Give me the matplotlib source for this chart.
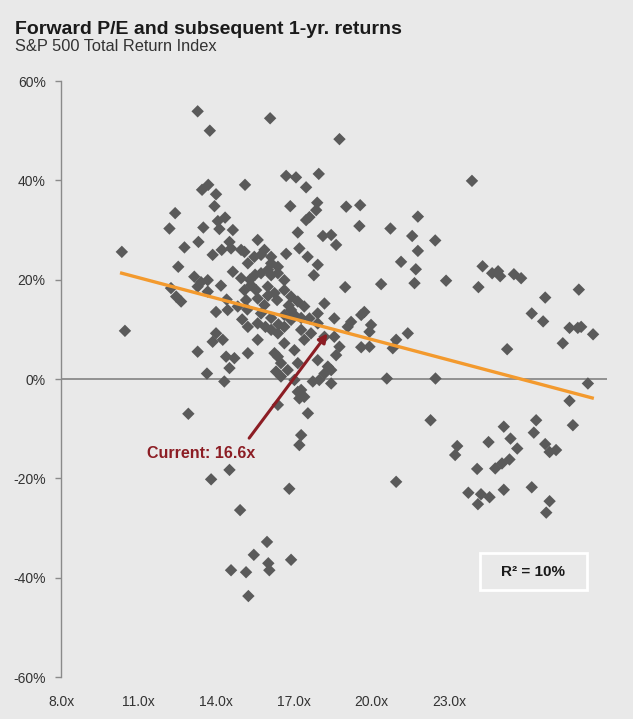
import matplotlib
matplotlib.use("Agg")
import matplotlib.pyplot as plt
from matplotlib.patches import Rectangle

# ---- data (forward P/E in chart units, subsequent 1-yr return %) ----
pe = [13.28, 13.75, 16.08, 18.76, 16.70, 17.08, 17.96, 17.47, 15.11, 13.45,
      13.69, 13.99, 13.93, 16.86, 17.90, 17.86, 17.60, 17.47, 19.02, 19.56,
      19.53, 20.73, 21.79, 21.57, 21.79, 21.14, 23.88, 22.46, 21.71, 21.66,
      22.88, 20.37, 24.29, 24.66, 24.89, 24.97, 25.50, 25.78, 24.13, 26.71,
      28.01, 26.19, 26.63, 27.65, 27.97, 28.10, 28.56, 27.39, 25.24, 21.40,
      20.95, 20.82, 20.59, 22.47, 28.36, 27.65, 27.78, 22.28, 25.11, 26.36,
      26.27, 23.31, 23.23, 24.52, 25.37, 25.63, 26.71, 26.88, 27.13, 24.08,
      24.78, 25.04, 25.33, 20.95, 23.74, 24.23, 24.56, 24.11, 25.11, 26.19,
      26.88, 26.75, 18.98, 18.18, 18.56, 19.21, 19.72, 19.60, 19.98, 19.92,
      19.60, 19.92, 18.56, 18.76, 18.63, 18.31, 18.18, 18.44, 17.73, 17.98,
      18.44, 17.53, 17.92, 17.77, 15.60, 15.86, 15.47, 16.12, 16.38, 17.15,
      18.12, 18.44, 18.63, 17.21, 16.70, 12.41, 12.19, 13.50, 14.06, 14.34,
      14.12, 14.64, 14.51, 13.31, 12.77, 10.35, 13.86, 14.21, 14.57, 14.96,
      12.53, 13.15, 13.41, 13.67, 14.18, 12.25, 12.64, 12.45, 10.47, 13.28,
      13.99, 13.86, 14.25, 14.38, 14.70, 15.22, 14.51, 13.64, 14.31, 12.92,
      13.99, 14.44, 13.28, 13.67, 15.22, 15.60, 15.73, 16.25, 16.50, 16.76,
      16.31, 17.02, 17.28, 17.21, 17.54, 17.28, 17.21, 17.15, 17.40, 16.38,
      14.51, 13.80, 16.82, 14.92, 15.96, 15.45, 14.57, 15.15, 16.01, 16.05,
      16.89, 15.24,
      15.09, 16.12, 14.64, 14.96, 15.22, 15.73, 16.38, 16.63, 15.09, 15.60,
      15.99, 16.25, 16.63, 16.89, 17.15, 17.40, 17.92, 19.08, 14.83, 15.60,
      16.12, 16.38, 16.63, 16.89, 17.28, 17.40, 17.66, 17.92, 18.18, 16.38,
      16.63, 17.02, 17.15, 17.92, 16.50,
      15.34, 15.86, 16.35, 16.89, 17.28, 15.15, 16.63, 16.12, 15.54, 15.73,
      16.12, 15.50, 16.00, 15.30, 16.80, 17.00, 16.40, 15.90, 15.00, 17.60,
      16.00, 14.40, 15.20]
ret = [53.9, 50.0, 52.5, 48.3, 40.9, 40.6, 41.3, 38.6, 39.1, 38.1,
       39.1, 37.2, 34.8, 34.8, 35.5, 34.0, 32.6, 32.0, 34.7, 35.0,
       30.8, 30.3, 32.7, 28.8, 25.8, 23.6, 39.9, 27.9, 22.1, 19.3,
       19.8, 19.1, 22.7, 21.3, 21.7, 20.7, 21.1, 20.3, 18.5, 16.4,
       18.0, 13.2, 11.6, 10.3, 10.3, 10.5, 9.0, 7.2, 6.0, 9.2,
       7.9, 6.2, 0.1, 0.1, -0.9, -4.4, -9.3, -8.3, -9.6, -8.3,
       -10.8, -13.5, -15.3, -12.7, -12.0, -14.0, -13.1, -14.7, -14.3, -18.1,
       -18.0, -17.0, -16.2, -20.7, -22.9, -23.2, -23.8, -25.2, -22.3, -21.8,
       -24.6, -26.9, 18.5, 15.2, 12.2, 11.5, 13.5, 12.9, 10.9, 9.5,
       6.4, 6.5, 8.5, 6.5, 4.8, 2.5, 1.1, -0.9, -0.5, -0.2,
       1.8, 24.6, 23.0, 20.9, 28.0, 26.0, 24.6, 23.3, 22.6, 29.5,
       28.8, 29.0, 27.0, 26.3, 25.2, 33.4, 30.3, 30.5, 31.8, 32.5,
       30.2, 30.0, 27.6, 27.6, 26.5, 25.6, 25.0, 26.0, 26.3, 26.0,
       22.6, 20.6, 19.5, 19.9, 18.8, 18.3, 15.6, 16.6, 9.7, 5.5,
       9.2, 7.5, 7.9, 4.5, 4.2, 5.2, 2.2, 1.1, -0.5, -7.0,
       13.5, 13.9, 18.6, 17.6, 10.5, 7.9, 13.2, 5.2, 3.2, 1.8,
       1.5, -0.2, -2.2, -3.9, -6.9, -11.3, -13.3, -2.6, -3.6, -5.2,
       -18.3, -20.2, -22.1, -26.4, -32.8, -35.4, -38.5, -38.9, -37.1, -38.5,
       -36.4, -43.7,
       25.6, 24.6, 21.6, 20.3, 23.3, 21.3, 21.3, 19.9, 17.9, 16.2,
       18.6, 17.3, 17.9, 16.6, 15.6, 14.6, 13.2, 10.5, 14.6, 11.2,
       9.9, 9.2, 10.5, 11.9, 9.9, 7.9, 9.2, 11.2, 8.5, 4.5,
       7.2, 5.8, 3.2, 3.8, 0.5,
       18.9, 14.9, 15.9, 13.9, 12.3, 15.9, 12.9, 12.3, 17.9, 25.0,
       20.9, 21.0, 22.0, 20.0, 14.8, 13.0, 11.0, 10.5, 12.0, 12.2,
       16.8, 16.0, 14.0]

trend_pe = [10.28, 28.59]
trend_ret = [21.4, -3.9]

current_tip = (18.30, 9.2)
current_tail = (15.27, -11.9)
current_label = "Current: 16.6x"

x_ticks = [8, 11, 14, 17, 20, 23]
x_labels = ["8.0x", "11.0x", "14.0x", "17.0x", "20.0x", "23.0x"]
y_ticks = [-60, -40, -20, 0, 20, 40, 60]
y_labels = ["-60%", "-40%", "-20%", "0%", "20%", "40%", "60%"]

title = "Forward P/E and subsequent 1-yr. returns"
subtitle = "S&P 500 Total Return Index"
r2_text = "R² = 10%"

# ---- style ----
BG = "#e9e9e9"
plt.rcParams["font.family"] = ["Liberation Sans", "DejaVu Sans"]

fig = plt.figure(figsize=(6.33, 7.19), dpi=100, facecolor=BG)
ax = fig.add_axes([0.0964, 0.0584, 0.8626, 0.8289], facecolor=BG)

ax.set_xlim(8, 29.1)
ax.set_ylim(-60, 60)

ax.axhline(0, color="#8a8a8a", lw=1.3, zorder=1)

ax.scatter(pe, ret, marker="D", s=40, color="#5a5a5a", edgecolors="none", zorder=3)

ax.plot(trend_pe, trend_ret, color="#f39a2e", lw=2.4, zorder=4, solid_capstyle="butt")

ax.annotate("", xy=current_tip, xytext=current_tail,
            arrowprops=dict(arrowstyle="-|>", color="#8c1d24", lw=2.2,
                            mutation_scale=13, shrinkA=0, shrinkB=0),
            zorder=5)
ax.text(13.41, -14.9, current_label, color="#8c1d24", fontsize=11.5,
        fontweight="bold", ha="center", va="center", zorder=6)

# R² box
ax.add_patch(Rectangle((0.767, 0.146), 0.196, 0.062, transform=ax.transAxes,
                       facecolor=BG, edgecolor="white", lw=2, zorder=6))
ax.text(0.865, 0.177, r2_text, transform=ax.transAxes, fontsize=11,
        fontweight="bold", ha="center", va="center", color="#1a1a1a", zorder=7)

# axes styling
for side in ["top", "right", "bottom"]:
    ax.spines[side].set_visible(False)
ax.spines["left"].set_color("#8a8a8a")
ax.spines["left"].set_linewidth(1.0)

ax.set_xticks(x_ticks)
ax.set_xticklabels(x_labels)
ax.set_yticks(y_ticks)
ax.set_yticklabels(y_labels)
ax.tick_params(axis="x", length=0, pad=13, labelsize=10, labelcolor="#333333")
ax.tick_params(axis="y", length=4, width=1, color="#8a8a8a", pad=7,
               labelsize=10, labelcolor="#333333")

fig.text(0.024, 0.953, title, fontsize=14, fontweight="bold", color="#1a1a1a",
         ha="left", va="baseline")
fig.text(0.024, 0.929, subtitle, fontsize=11.8, color="#333333",
         ha="left", va="baseline")

fig.savefig("out.png", dpi=100, facecolor=BG)
